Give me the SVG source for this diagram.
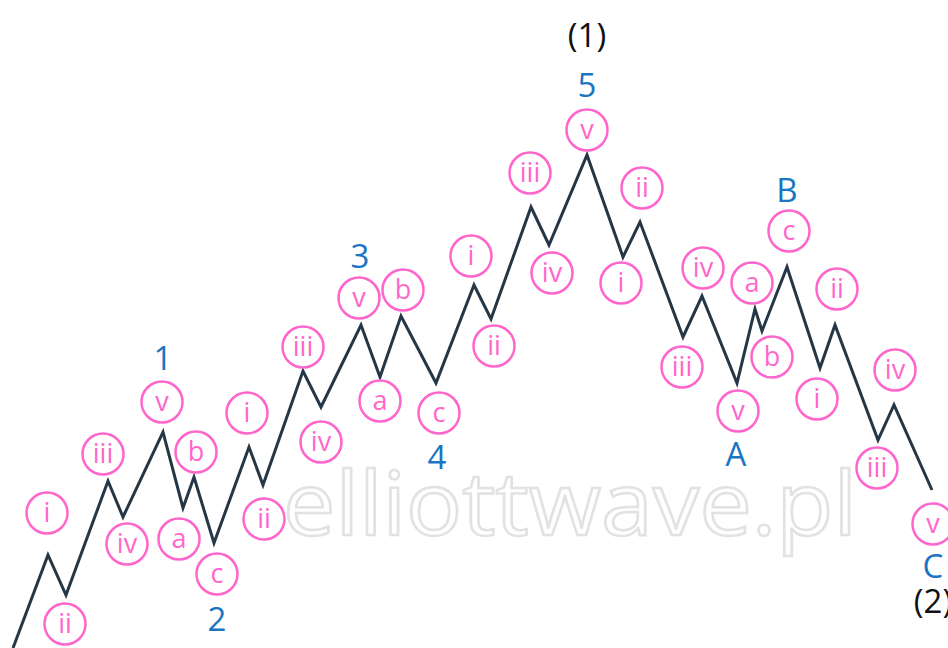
<svg xmlns="http://www.w3.org/2000/svg" width="948" height="648" viewBox="0 0 948 648">
<style>
.n circle{fill:#fff;stroke:#ff66cc;stroke-width:2.5}
.n text{fill:#ff66cc;font-family:"Open Sans","Liberation Sans",sans-serif;font-size:27px;text-anchor:middle}
.lb{fill:#1a75c2;font-family:"Open Sans","Liberation Sans",sans-serif;font-size:33px;text-anchor:middle}
.dg{fill:#111;font-family:"Open Sans","Liberation Sans",sans-serif;font-size:33px;text-anchor:middle}
.wave{fill:none;stroke:#253746;stroke-width:3;stroke-linejoin:miter}
.wm{fill:#fff;stroke:#e2e2e2;stroke-width:2.5;font-family:"Open Sans","Liberation Sans",sans-serif;font-size:88px}
</style>
<rect width="948" height="648" fill="#fff"/>
<text class="wm" x="283" y="535" textLength="574" lengthAdjust="spacingAndGlyphs">elliottwave.pl</text>
<g id="connectors">
<polyline class="wave" points="13,648 48,555 66,595 108,481 123,517 163,432 183,508 194,477 214,543 249,447 263,485 303,371 321,407 361,325 380,377 401,316 436,383 474,285 491,319 531,207 549,245 587,155 623,257 640,222 683,337 702,296 737,383 755,309 762,331 787,267 820,368 835,325 878,440 894,405 932,490"/>
</g>
<g id="n1i" class="n"><circle cx="47" cy="513" r="20.5"/><text x="47" y="522">i</text></g>
<g id="n1ii" class="n"><circle cx="65" cy="624" r="20.5"/><text x="65" y="633">ii</text></g>
<g id="n1iii" class="n"><circle cx="103" cy="454" r="20.5"/><text x="103" y="463">iii</text></g>
<g id="n1iv" class="n"><circle cx="127" cy="544" r="20.5"/><text x="127" y="553">iv</text></g>
<g id="n1v" class="n"><circle cx="162" cy="402" r="20.5"/><text x="162" y="411">v</text></g>
<g id="n2a" class="n"><circle cx="179" cy="539" r="20.5"/><text x="179" y="548">a</text></g>
<g id="n2b" class="n"><circle cx="196" cy="452" r="20.5"/><text x="196" y="461">b</text></g>
<g id="n2c" class="n"><circle cx="217" cy="574" r="20.5"/><text x="217" y="583">c</text></g>
<g id="n3i" class="n"><circle cx="247" cy="413" r="20.5"/><text x="247" y="422">i</text></g>
<g id="n3ii" class="n"><circle cx="264" cy="519" r="20.5"/><text x="264" y="528">ii</text></g>
<g id="n3iii" class="n"><circle cx="303" cy="347" r="20.5"/><text x="303" y="356">iii</text></g>
<g id="n3iv" class="n"><circle cx="321" cy="442" r="20.5"/><text x="321" y="451">iv</text></g>
<g id="n3v" class="n"><circle cx="359" cy="298" r="20.5"/><text x="359" y="307">v</text></g>
<g id="n4a" class="n"><circle cx="380" cy="401" r="20.5"/><text x="380" y="410">a</text></g>
<g id="n4b" class="n"><circle cx="403" cy="290" r="20.5"/><text x="403" y="299">b</text></g>
<g id="n4c" class="n"><circle cx="439" cy="413" r="20.5"/><text x="439" y="422">c</text></g>
<g id="n5i" class="n"><circle cx="471" cy="256" r="20.5"/><text x="471" y="265">i</text></g>
<g id="n5ii" class="n"><circle cx="494" cy="346" r="20.5"/><text x="494" y="355">ii</text></g>
<g id="n5iii" class="n"><circle cx="530" cy="173" r="20.5"/><text x="530" y="182">iii</text></g>
<g id="n5iv" class="n"><circle cx="552" cy="273" r="20.5"/><text x="552" y="282">iv</text></g>
<g id="n5v" class="n"><circle cx="587" cy="130" r="20.5"/><text x="587" y="139">v</text></g>
<g id="nAi" class="n"><circle cx="621" cy="283" r="20.5"/><text x="621" y="292">i</text></g>
<g id="nAii" class="n"><circle cx="642" cy="188" r="20.5"/><text x="642" y="197">ii</text></g>
<g id="nAiii" class="n"><circle cx="682" cy="367" r="20.5"/><text x="682" y="376">iii</text></g>
<g id="nAiv" class="n"><circle cx="703" cy="268" r="20.5"/><text x="703" y="277">iv</text></g>
<g id="nAv" class="n"><circle cx="738" cy="411" r="20.5"/><text x="738" y="420">v</text></g>
<g id="nBa" class="n"><circle cx="752" cy="283" r="20.5"/><text x="752" y="292">a</text></g>
<g id="nBb" class="n"><circle cx="772" cy="357" r="20.5"/><text x="772" y="366">b</text></g>
<g id="nBc" class="n"><circle cx="789" cy="231" r="20.5"/><text x="789" y="240">c</text></g>
<g id="nCi" class="n"><circle cx="817" cy="399" r="20.5"/><text x="817" y="408">i</text></g>
<g id="nCii" class="n"><circle cx="837" cy="289" r="20.5"/><text x="837" y="298">ii</text></g>
<g id="nCiii" class="n"><circle cx="877" cy="468" r="20.5"/><text x="877" y="477">iii</text></g>
<g id="nCiv" class="n"><circle cx="895" cy="370" r="20.5"/><text x="895" y="379">iv</text></g>
<g id="nCv" class="n"><circle cx="933" cy="524" r="20.5"/><text x="933" y="533">v</text></g>
<g id="labels">
<text class="lb" x="163" y="370">1</text>
<text class="lb" x="217" y="631">2</text>
<text class="lb" x="360" y="268">3</text>
<text class="lb" x="437" y="469">4</text>
<text class="lb" x="587" y="97">5</text>
<text class="lb" x="736" y="466">A</text>
<text class="lb" x="787" y="202">B</text>
<text class="lb" x="933" y="578">C</text>
<text class="dg" x="587" y="47">(1)</text>
<text class="dg" x="933" y="613">(2)</text>
</g>
</svg>
